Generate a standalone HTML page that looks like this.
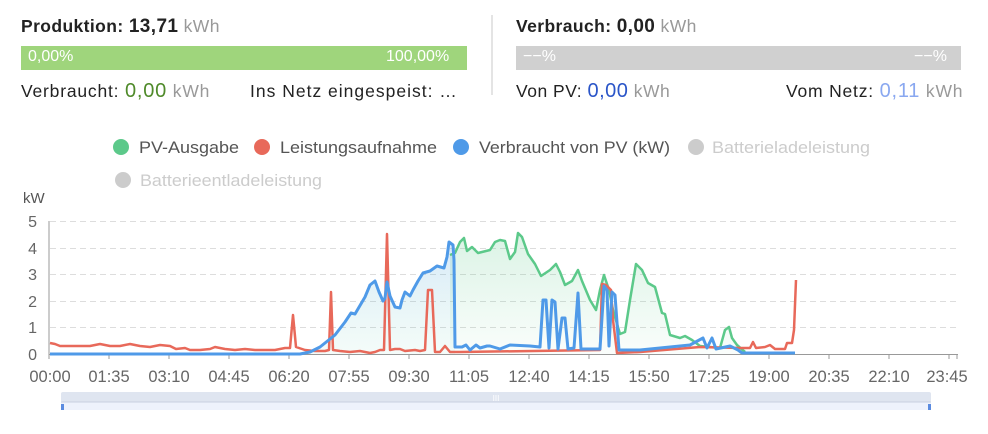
<!DOCTYPE html><html><head><meta charset="utf-8"><style>
body{margin:0;width:988px;height:434px;background:#fff;font-family:"Liberation Sans",sans-serif;position:relative;overflow:hidden}
.a{position:absolute;white-space:nowrap}
</style></head><body>
<div class="a" style="left:21px;top:16px;font-size:17.5px;color:#222;letter-spacing:0.4px"><b>Produktion: <span style="font-size:19px">13,71</span></b> <span style="color:#999">kWh</span></div>
<div class="a" style="left:21px;top:46px;width:446px;height:24px;background:#9fd57c"></div>
<div class="a" style="left:28px;top:48px;font-size:16px;color:#fff">0,00%</div>
<div class="a" style="left:386px;top:48px;font-size:16px;color:#fff">100,00%</div>
<div class="a" style="left:21px;top:80px;font-size:17.5px;color:#222;letter-spacing:0.8px">Verbraucht: <span style="color:#4f8a2a;font-size:20px">0,00</span> <span style="color:#999">kWh</span></div>
<div class="a" style="left:250px;top:81px;font-size:17.5px;color:#222;letter-spacing:1px">Ins Netz eingespeist: …</div>
<div class="a" style="left:491px;top:15px;width:2px;height:80px;background:#e4e4e4"></div>
<div class="a" style="left:516px;top:16px;font-size:17.5px;color:#222;letter-spacing:0.4px"><b>Verbrauch: <span style="font-size:19px">0,00</span></b> <span style="color:#999">kWh</span></div>
<div class="a" style="left:516px;top:46px;width:445px;height:24px;background:#d0d0d0"></div>
<div class="a" style="left:523px;top:48px;font-size:16px;color:#fff">−−%</div>
<div class="a" style="left:914px;top:48px;font-size:16px;color:#fff">−−%</div>
<div class="a" style="left:516px;top:80px;font-size:17.5px;color:#222;letter-spacing:0.5px">Von PV: <span style="color:#2a55c8;font-size:20px">0,00</span> <span style="color:#999">kWh</span></div>
<div class="a" style="left:786px;top:80px;font-size:17.5px;color:#222;letter-spacing:0.8px">Vom Netz: <span style="color:#8aa8f0;font-size:20px">0,11</span> <span style="color:#999">kWh</span></div>
<svg class="a" style="left:0;top:0" width="988" height="434" font-family="Liberation Sans, sans-serif">
<defs>
<linearGradient id="gg" x1="0" y1="0" x2="0" y2="1"><stop offset="0" stop-color="#5cc98a" stop-opacity=".22"/><stop offset="1" stop-color="#5cc98a" stop-opacity=".03"/></linearGradient>
<linearGradient id="bg" x1="0" y1="0" x2="0" y2="1"><stop offset="0" stop-color="#4f9ae8" stop-opacity=".22"/><stop offset="1" stop-color="#4fc8a8" stop-opacity=".06"/></linearGradient>
</defs>
<g font-size="17" fill="#555">
<circle cx="121" cy="147" r="8" fill="#5cc98a"/><text x="139" y="153" textLength="100" lengthAdjust="spacingAndGlyphs">PV-Ausgabe</text>
<circle cx="262" cy="147" r="8" fill="#e8695a"/><text x="280" y="153" textLength="157" lengthAdjust="spacingAndGlyphs">Leistungsaufnahme</text>
<circle cx="461" cy="147" r="8" fill="#4f9ae8"/><text x="479" y="153" textLength="191" lengthAdjust="spacingAndGlyphs">Verbraucht von PV (kW)</text>
<circle cx="696" cy="147" r="8" fill="#ccc"/><text x="712" y="153" fill="#ccc" textLength="158" lengthAdjust="spacingAndGlyphs">Batterieladeleistung</text>
<circle cx="123" cy="180" r="8" fill="#ccc"/><text x="140" y="186" fill="#ccc" textLength="182" lengthAdjust="spacingAndGlyphs">Batterieentladeleistung</text>
</g>
<text x="23" y="203" font-size="15" fill="#555">kW</text>
<g stroke="#ddd" stroke-dasharray="6,4" stroke-width="1">
<line x1="50" y1="221.5" x2="957" y2="221.5"/><line x1="50" y1="248.5" x2="957" y2="248.5"/><line x1="50" y1="274.5" x2="957" y2="274.5"/><line x1="50" y1="301.5" x2="957" y2="301.5"/><line x1="50" y1="327.5" x2="957" y2="327.5"/>
</g>
<line x1="49" y1="221" x2="49" y2="354" stroke="#999"/>
<line x1="49" y1="354.5" x2="958" y2="354.5" stroke="#999"/>
<g font-size="16" fill="#666" text-anchor="end">
<text x="37" y="227">5</text><text x="37" y="254">4</text><text x="37" y="280">3</text><text x="37" y="307">2</text><text x="37" y="333">1</text><text x="37" y="360">0</text>
</g>
<g stroke="#999"><line x1="49" y1="354" x2="49" y2="359"/><line x1="109" y1="354" x2="109" y2="359"/><line x1="169" y1="354" x2="169" y2="359"/><line x1="229" y1="354" x2="229" y2="359"/><line x1="289" y1="354" x2="289" y2="359"/><line x1="349" y1="354" x2="349" y2="359"/><line x1="409" y1="354" x2="409" y2="359"/><line x1="469" y1="354" x2="469" y2="359"/><line x1="529" y1="354" x2="529" y2="359"/><line x1="589" y1="354" x2="589" y2="359"/><line x1="649" y1="354" x2="649" y2="359"/><line x1="709" y1="354" x2="709" y2="359"/><line x1="769" y1="354" x2="769" y2="359"/><line x1="829" y1="354" x2="829" y2="359"/><line x1="889" y1="354" x2="889" y2="359"/><line x1="949" y1="354" x2="949" y2="359"/><line x1="957" y1="354" x2="957" y2="359"/></g>
<g font-size="16.5" fill="#666" text-anchor="middle">
<text x="50" y="382">00:00</text><text x="109" y="382">01:35</text><text x="169" y="382">03:10</text><text x="229" y="382">04:45</text><text x="289" y="382">06:20</text><text x="349" y="382">07:55</text><text x="409" y="382">09:30</text><text x="469" y="382">11:05</text><text x="529" y="382">12:40</text><text x="589" y="382">14:15</text><text x="649" y="382">15:50</text><text x="709" y="382">17:25</text><text x="769" y="382">19:00</text><text x="829" y="382">20:35</text><text x="889" y="382">22:10</text><text x="947" y="382">23:45</text>
</g>
<polygon fill="url(#gg)" points="450,354 450,255 455,253 460,242 464,238 467,251 472,247 478,253 490,250 495,242 500,240 505,241 510,259 515,252 518,233 522,237 528,254 535,264 541,276 550,270 556,264 560,272 565,285 572,281 578,270 582,281 590,300 596,310 600,290 604,275 609,290 613,310 620,334 625,332 630,300 636,264 642,270 648,283 655,287 662,313 665,314 670,335 680,338 685,336 692,340 700,346 720,348 725,330 729,327 732,338 737,345 745,352 745,354"/>
<polygon fill="url(#bg)" points="300,354 310,352 320,347 335,335 345,322 351,313 355,314 365,297 370,285 375,281 379,292 383,301 385,298 387,282 390,296 395,307 400,308 402,300 405,292 410,296 413,290 418,281 423,273 430,271 437,266 444,268 447,257 449,242 453,245 454,260 455,347 455,354"/>
<polyline fill="none" stroke="#5cc98a" stroke-width="2.5" stroke-linejoin="round" points="450,255 455,253 460,242 464,238 467,251 472,247 478,253 490,250 495,242 500,240 505,241 510,259 515,252 518,233 522,237 528,254 535,264 541,276 550,270 556,264 560,272 565,285 572,281 578,270 582,281 590,300 596,310 600,290 604,275 609,290 613,310 620,334 625,332 630,300 636,264 642,270 648,283 655,287 662,313 665,314 670,335 680,338 685,336 692,340 700,346 720,348 725,330 729,327 732,338 737,345 745,352"/>
<polyline fill="none" stroke="#e8695a" stroke-width="2.5" stroke-linejoin="round" points="50,343 55,344 60,346 70,346 80,346 90,346 100,344 110,346 120,346 130,344 140,346 150,347 160,345 170,346 176,349 185,348 190,350 200,350 210,349 215,347 225,349 235,350 245,349 255,350 265,350 275,350 285,348 290,348 293,315 296,347 305,350 315,351 325,351 329,350 331,292 333,350 340,351 350,352 360,351 370,353 375,352 380,350 384,350 387,234 390,350 395,349 400,349 405,351 415,350 420,351 425,350 428,290 432,290 435,352 440,352 445,346 450,352 460,352 600,350 602,284 606,285 611,290 613,320 617,353 640,352 700,347 740,348 750,348 753,342 756,348 765,347 770,345 775,349 785,349 787,343 792,343 794,330 796,280"/>
<polyline fill="none" stroke="#4f9ae8" stroke-width="3" stroke-linejoin="round" points="50,354 300,354 310,352 320,347 335,335 345,322 351,313 355,314 365,297 370,285 375,281 379,292 383,301 385,298 387,282 390,296 395,307 400,308 402,300 405,292 410,296 413,290 418,281 423,273 430,271 437,266 444,268 447,257 449,242 453,245 454,260 455,347 462,347 466,345 470,350 476,345 480,348 487,346 490,346 500,349 510,345 530,346 540,347 543,300 546,300 549,348 552,300 555,302 558,349 562,318 565,318 568,349 574,348 578,293 581,349 600,349 604,286 607,290 609,346 612,292 615,295 619,350 640,350 660,348 690,345 703,338 707,348 712,338 716,349 730,346 738,350 742,353 795,353"/>
<rect x="61" y="392" width="870" height="10" fill="#dfe5f0" rx="2"/>
<rect x="61" y="402" width="870" height="8" fill="#eef2fc"/>
<line x1="61" y1="402" x2="931" y2="402" stroke="#c8d0e0"/>
<rect x="61" y="404" width="3" height="6" fill="#5b8be0"/><rect x="928" y="404" width="3" height="6" fill="#5b8be0"/>
<text x="496" y="401" font-size="8" fill="#fff" text-anchor="middle">III</text>
</svg>
</body></html>
